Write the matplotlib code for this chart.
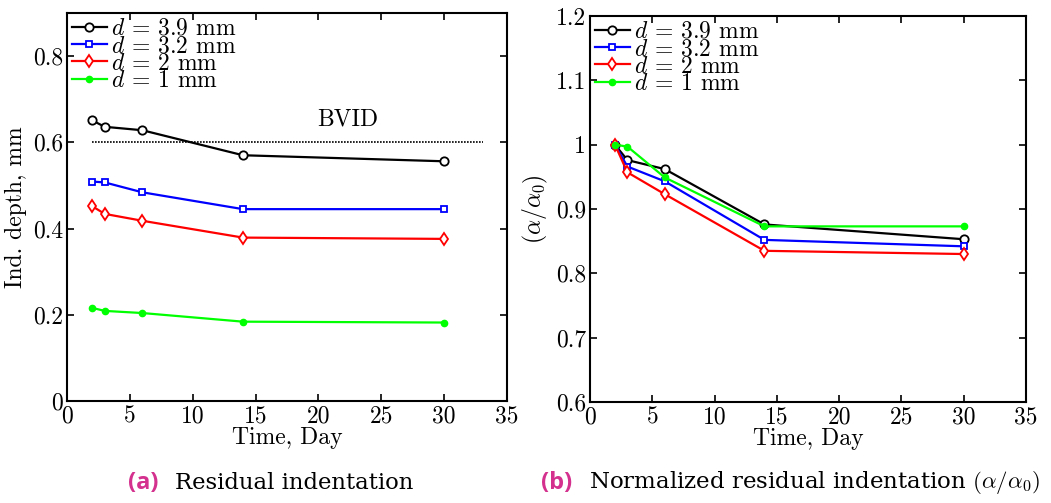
import matplotlib
matplotlib.use('Agg')
import matplotlib.pyplot as plt
from matplotlib.ticker import FuncFormatter

plt.rcParams['font.family'] = 'serif'
plt.rcParams['font.serif'] = ['cmr10']
plt.rcParams['mathtext.fontset'] = 'cm'
plt.rcParams['axes.formatter.use_mathtext'] = True

# data
days = [2, 3, 6, 14, 30]
labels = [r'$d$ = 3.9 mm', r'$d$ = 3.2 mm', r'$d$ = 2 mm', r'$d$ = 1 mm']

depth_39 = [0.651, 0.636, 0.628, 0.570, 0.556]
depth_32 = [0.509, 0.507, 0.484, 0.445, 0.445]
depth_2 = [0.452, 0.434, 0.418, 0.379, 0.376]
depth_1 = [0.216, 0.209, 0.204, 0.184, 0.182]

norm_39 = [1.0, 0.976, 0.962, 0.876, 0.853]
norm_32 = [1.0, 0.966, 0.943, 0.852, 0.842]
norm_2 = [1.0, 0.957, 0.923, 0.835, 0.830]
norm_1 = [1.0, 0.997, 0.949, 0.873, 0.873]

bvid = 0.6
bvid_x = [2, 33.1]

styles = [dict(color='k', marker='o', ms=6, mfc='white', mew=1.3),
          dict(color='#0000ff', marker='s', ms=4.5, mfc='white', mew=1.3),
          dict(color='#ff0000', marker='d', ms=6, mfc='white', mew=1.3),
          dict(color='#00ff00', marker='o', ms=4.5, mfc='#00ff00', mew=1)]

fs = 17

fig = plt.figure(figsize=(10.51, 5.03), dpi=100)
ax1 = fig.add_axes([0.0637, 0.2028, 0.4187, 0.7714])
ax2 = fig.add_axes([0.5614, 0.2008, 0.4148, 0.7674])

def fmt(v, pos):
    return '%g' % round(v, 3)

def style_ax(ax):
    ax.tick_params(direction='in', top=True, right=True, labelsize=fs, length=5, width=1.2, pad=3)
    for s in ax.spines.values():
        s.set_linewidth(1.5)
    ax.xaxis.set_major_formatter(FuncFormatter(fmt))
    ax.yaxis.set_major_formatter(FuncFormatter(fmt))
    ax.set_xlim(0, 35)
    ax.set_xticks([0, 5, 10, 15, 20, 25, 30, 35])
    ax.set_xlabel('Time, Day', fontsize=fs, labelpad=0)
    ax.legend(loc='upper left', frameon=False, fontsize=fs, handlelength=1.5,
              handletextpad=0.15, labelspacing=-0.2, borderaxespad=0.15,
              borderpad=0.05)

for y, lab, st in zip([depth_39, depth_32, depth_2, depth_1], labels, styles):
    ax1.plot(days, y, lw=1.6, label=lab, **st)
ax1.plot(bvid_x, [bvid, bvid], color='k', ls=(0, (1, 0.8)), lw=1.2)
ax1.text(22.3, 0.652, 'BVID', fontsize=fs, ha='center', va='center')
ax1.set_ylim(0, 0.9)
ax1.set_yticks([0, 0.2, 0.4, 0.6, 0.8])
ax1.set_ylabel('Ind. depth, mm', fontsize=fs, labelpad=4)
style_ax(ax1)

for y, lab, st in zip([norm_39, norm_32, norm_2, norm_1], labels, styles):
    ax2.plot(days, y, lw=1.6, label=lab, **st)
ax2.set_ylim(0.6, 1.2)
ax2.set_yticks([0.6, 0.7, 0.8, 0.9, 1.0, 1.1, 1.2])
ax2.set_ylabel(r'$(\alpha/\alpha_0)$', fontsize=fs, labelpad=4)
style_ax(ax2)

# captions
mag = '#d4308e'
cy = 1 - 483 / 503
fig.text(128 / 1051, cy, '(a)', fontsize=17, fontweight='bold',
         family='Open Sans', color=mag, va='center')
fig.text(175 / 1051, cy, 'Residual indentation', fontsize=16.4,
         family='DejaVu Serif', va='center')
fig.text(541 / 1051, cy, '(b)', fontsize=17, fontweight='bold',
         family='Open Sans', color=mag, va='center')
fig.text(589 / 1051, cy, r'Normalized residual indentation $(\alpha/\alpha_0)$',
         fontsize=16.5, family='DejaVu Serif', va='center')

fig.savefig('out.png', dpi=100)
